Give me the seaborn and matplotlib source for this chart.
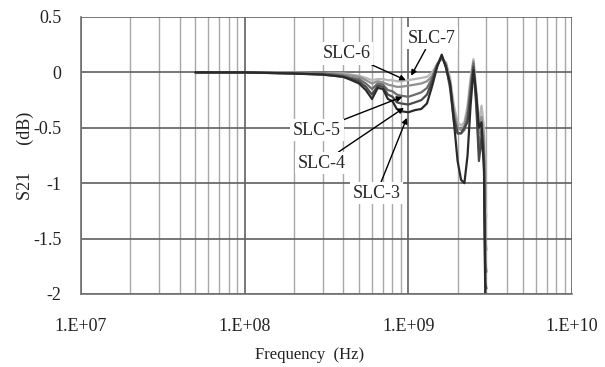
import numpy as np
import pandas as pd
import matplotlib
matplotlib.use("Agg")
import matplotlib.pyplot as plt
import seaborn as sns
from matplotlib.ticker import LogLocator

sns.set_theme(style="white")
plt.rcParams['font.family'] = ['Liberation Serif', 'DejaVu Serif']

freq = [5e7, 1e8, 2e8, 3e8, 3.5e8, 4e8, 4.5e8, 5e8, 5.5e8, 6e8, 6.5e8, 7e8, 7.5e8,
        8e8, 8.5e8, 9e8, 1e9, 1.1e9, 1.2e9, 1.3e9, 1.4e9, 1.5e9, 1.6e9, 1.7e9,
        1.8e9, 1.9e9, 2.0e9, 2.1e9, 2.2e9, 2.3e9, 2.4e9, 2.5e9, 2.6e9, 2.7e9,
        2.8e9, 2.9e9, 2.95e9, 3.0e9]

slc3 = [0.0, 0.0, -0.01, -0.02, -0.03, -0.04, -0.07, -0.10, -0.16, -0.24, -0.14, -0.15, -0.24,
        -0.26, -0.33, -0.35, -0.36, -0.34, -0.33, -0.28, -0.12, 0.05, 0.16, 0.04,
        -0.10, -0.45, -0.80, -0.97, -1.00, -0.75, -0.30, 0.02, -0.20, -0.50,
        -0.45, -0.90, -2.00, -2.00]
slc4 = [0.0, 0.0, -0.01, -0.02, -0.03, -0.04, -0.06, -0.08, -0.13, -0.20, -0.12, -0.13, -0.20,
        -0.22, -0.27, -0.28, -0.29, -0.27, -0.25, -0.20, -0.08, 0.06, 0.15, 0.05,
        -0.12, -0.40, -0.55, -0.55, -0.50, -0.45, -0.20, 0.05, -0.30, -0.80,
        -0.60, -0.80, -1.90, -1.95]
slc5 = [0.0, 0.0, -0.01, -0.01, -0.02, -0.03, -0.05, -0.06, -0.10, -0.15, -0.10, -0.11, -0.16,
        -0.17, -0.20, -0.21, -0.22, -0.20, -0.18, -0.14, -0.05, 0.07, 0.14, 0.06,
        -0.15, -0.45, -0.55, -0.55, -0.52, -0.40, -0.15, 0.08, -0.25, -0.70,
        -0.50, -0.70, -1.70, -1.80]
slc6 = [0.0, 0.0, 0.0, -0.01, -0.01, -0.02, -0.03, -0.04, -0.07, -0.10, -0.08, -0.09, -0.11,
        -0.12, -0.13, -0.13, -0.12, -0.11, -0.10, -0.08, -0.03, 0.07, 0.13, 0.08,
        -0.10, -0.35, -0.50, -0.52, -0.48, -0.35, -0.10, 0.10, -0.20, -0.55,
        -0.40, -0.60, -1.50, -1.60]
slc7 = [0.0, 0.0, 0.0, -0.01, -0.01, -0.01, -0.02, -0.03, -0.05, -0.07, -0.06, -0.06, -0.07,
        -0.07, -0.08, -0.08, -0.07, -0.06, -0.05, -0.04, 0.0, 0.08, 0.12, 0.09,
        -0.05, -0.30, -0.45, -0.48, -0.45, -0.30, -0.05, 0.12, -0.15, -0.45,
        -0.30, -0.50, -1.20, -1.30]

series_names = ["SLC-3", "SLC-4", "SLC-5", "SLC-6", "SLC-7"]
series_vals = [slc3, slc4, slc5, slc6, slc7]
colors = ["#2a2a2a", "#4a4a4a", "#6c6c6c", "#909090", "#b8b8b8"]

xticks = [1e7, 1e8, 1e9, 1e10]
xtick_labels = ["1.E+07", "1.E+08", "1.E+09", "1.E+10"]
yticks = [-2, -1.5, -1, -0.5, 0, 0.5]
ytick_labels = ["-2", "-1.5", "-1", "-0.5", "0", "0.5"]

df = pd.DataFrame({
    "freq": np.tile(freq, len(series_names)),
    "S21": np.concatenate(series_vals),
    "series": np.repeat(series_names, len(freq)),
})

fig = plt.figure(figsize=(6.05, 3.67), dpi=100)
ax = fig.add_axes([81/605, 1-294/367, (572-81)/605, (294-17)/367])

ax.set_xscale("log")
ax.set_xlim(1e7, 1e10)
ax.set_ylim(-2, 0.5)

# grid
ax.xaxis.set_minor_locator(LogLocator(base=10, subs=np.arange(2, 10)))
ax.grid(which="minor", axis="x", color="#a8a8a8", linewidth=1.0)
ax.grid(which="major", axis="x", color="#606060", linewidth=1.2)
ax.grid(which="major", axis="y", color="#606060", linewidth=1.2)
ax.set_axisbelow(True)

sns.lineplot(data=df, x="freq", y="S21", hue="series", hue_order=series_names[::-1],
             palette=dict(zip(series_names, colors)), linewidth=1.6, legend=False,
             ax=ax, sort=False, estimator=None)

ax.set_xticks(xticks)
ax.set_xticklabels(xtick_labels)
ax.set_yticks(yticks)
ax.set_yticklabels(ytick_labels)
ax.tick_params(axis="x", which="both", length=0, pad=17, labelsize=13, colors="#222222")
ax.tick_params(axis="y", which="both", length=0, pad=14, labelsize=13, colors="#222222")

for s in ["left", "bottom"]:
    ax.spines[s].set_color("#707070")
    ax.spines[s].set_linewidth(1.2)
for s in ["top", "right"]:
    ax.spines[s].set_visible(False)

ax.set_xlabel("Frequency  (Hz)", fontsize=12, color="#222222")
ax.set_ylabel("S21      (dB)", fontsize=13, color="#222222")
ax.xaxis.set_label_coords((310-81)/491, (294-355)/277)
ax.yaxis.set_label_coords((25-81)/491, 0.5)
ax.xaxis.label.set_va("center")
ax.yaxis.label.set_va("center")

box = dict(boxstyle="square,pad=0.15", fc="white", ec="none")
arrow = dict(arrowstyle="-|>", color="black", lw=1.0, mutation_scale=8, shrinkA=0, shrinkB=0)
annots = [
    ("SLC-7", (1.04e9, -0.03), (1.39e9, 0.31)),
    ("SLC-6", (9.65e8, -0.07), (4.2e8, 0.17)),
    ("SLC-5", (9.2e8, -0.22), (2.77e8, -0.52)),
    ("SLC-4", (9.4e8, -0.32), (2.96e8, -0.82)),
    ("SLC-3", (9.8e8, -0.41), (6.4e8, -1.09)),
]
for name, xy, xytext in annots:
    ax.annotate(name, xy=xy, xytext=xytext, fontsize=13, ha="center", va="center",
                bbox=box, arrowprops=arrow)

fig.savefig("out.png", dpi=100)
